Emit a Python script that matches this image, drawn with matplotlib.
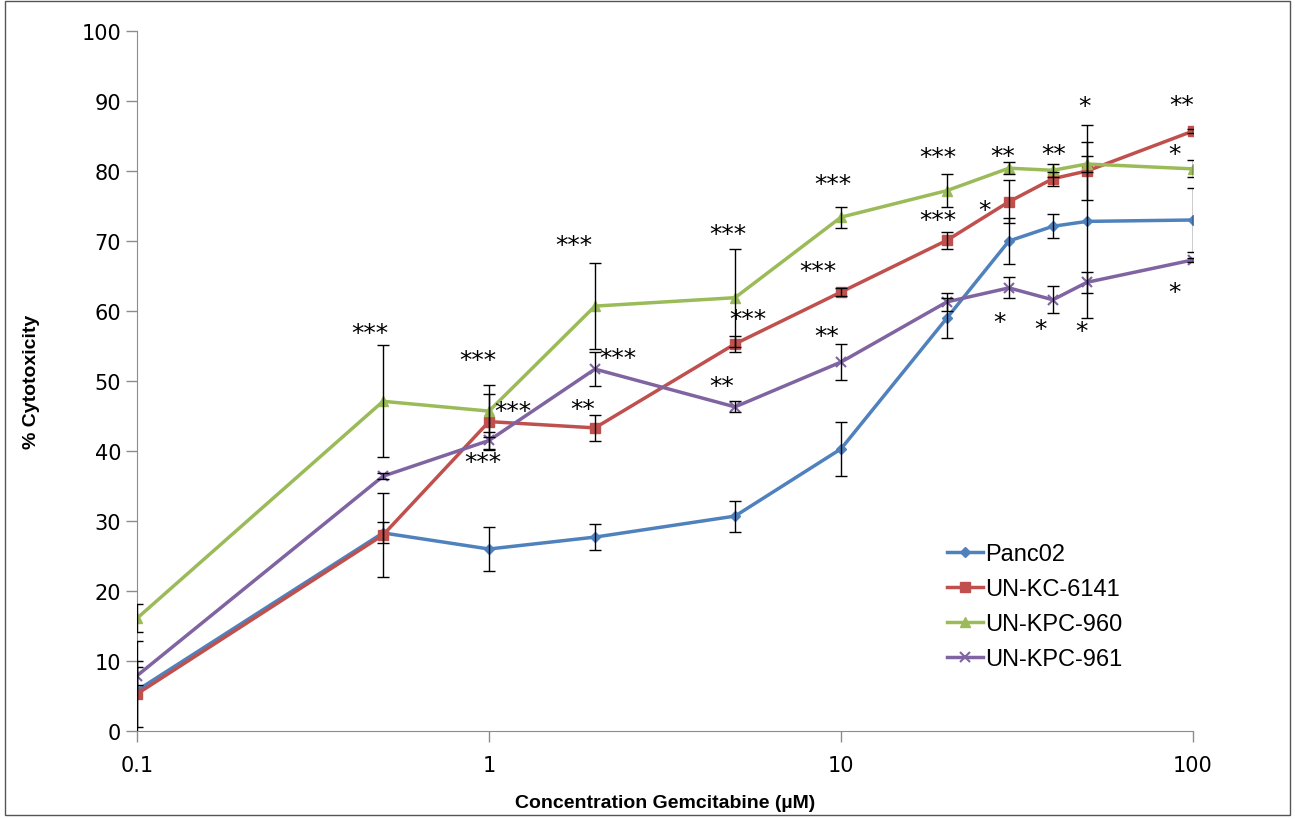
import numpy as np
import matplotlib
matplotlib.use("Agg")
import matplotlib.pyplot as plt
from matplotlib.patches import Rectangle

# concentrations (uM) and % cytotoxicity
conc = [0.1, 0.5, 1, 2, 5, 10, 20, 30, 40, 50, 100]
panc02 = [5.8, 28.3, 26.0, 27.7, 30.7, 40.3, 59.0, 70.0, 72.1, 72.8, 73.0]
panc02_err = [7.0, 1.5, 3.1, 1.9, 2.2, 3.9, 2.9, 3.3, 1.7, 13.8, 4.6]
kc6141 = [5.3, 28.0, 44.2, 43.3, 55.3, 62.7, 70.1, 75.6, 78.9, 80.0, 85.7]
kc6141_err = [4.7, 6.0, 4.0, 1.9, 1.1, 0.6, 1.2, 3.1, 1.0, 4.1, 0.3]
kpc960 = [16.1, 47.1, 45.7, 60.7, 61.9, 73.4, 77.2, 80.4, 80.1, 81.0, 80.3]
kpc960_err = [2.0, 8.0, 3.7, 6.2, 7.0, 1.5, 2.4, 0.9, 0.9, 1.2, 1.2]
kpc961 = [7.9, 36.4, 41.5, 51.7, 46.3, 52.7, 61.3, 63.3, 61.6, 64.1, 67.3]
kpc961_err = [1.3, 0.4, 1.2, 2.4, 0.8, 2.6, 1.3, 1.5, 1.9, 1.5, 0.3]

# significance marks (text, x, y)
stars = [("***", 0.46, 57.4), ("***", 0.93, 53.6), ("***", 1.17, 46.3), ("***", 0.96, 39.1),
         ("***", 1.74, 70.1), ("***", 2.32, 53.9), ("**", 1.84, 46.6),
         ("***", 4.77, 71.6), ("***", 5.44, 59.4), ("**", 4.59, 49.9),
         ("***", 9.48, 78.7), ("***", 8.60, 66.3), ("**", 9.13, 57.1),
         ("***", 18.9, 82.6), ("***", 18.9, 73.6),
         ("**", 28.8, 82.7), ("*", 25.6, 75.1), ("*", 28.3, 59.0),
         ("**", 40.3, 83.1), ("*", 37.0, 58.1),
         ("*", 49.3, 89.9), ("*", 48.1, 57.7),
         ("**", 93.1, 90.0), ("*", 88.9, 83.1), ("*", 88.9, 63.3)]

series = [("Panc02", panc02, panc02_err, "#4F81BD", "D", 5),
          ("UN-KC-6141", kc6141, kc6141_err, "#C0504D", "s", 7),
          ("UN-KPC-960", kpc960, kpc960_err, "#9BBB59", "^", 7),
          ("UN-KPC-961", kpc961, kpc961_err, "#8064A2", "x", 7)]

fig = plt.figure(figsize=(12.95, 8.2), dpi=100)
fig.patches.append(Rectangle((0.004, 0.005), 0.992, 0.992, transform=fig.transFigure,
                             fill=False, ec="#555555", lw=1.0))
ax = fig.add_axes([0.1058, 0.1073, 0.8154, 0.8537])

for name, y, e, c, m, ms in series:
    ax.errorbar(conc, y, yerr=e, fmt="none", ecolor="black", elinewidth=1.0,
                capsize=4, capthick=1.0, zorder=4)
    ax.plot(conc, y, color=c, lw=2.5, marker=m, ms=ms, mew=1.5 if m == "x" else 1,
            mec=c, mfc=c, label=name, zorder=3)

fs_star = 18
for s, x, y in stars:
    # asterisk glyph sits high in the line box; shift so its centre lands on (x, y)
    ax.annotate(s, (x, y), xytext=(0, -0.45 * fs_star), textcoords="offset points",
                ha="center", va="baseline", fontsize=fs_star, family="DejaVu Sans",
                color="black", zorder=6)

ax.set_xscale("log")
ax.set_xlim(0.1, 100)
ax.set_ylim(0, 100)
ax.set_xticks([0.1, 1, 10, 100])
ax.set_xticklabels(["0.1", "1", "10", "100"])
ax.xaxis.set_minor_locator(matplotlib.ticker.NullLocator())
ax.set_yticks(range(0, 101, 10))
for sp in ("top", "right"):
    ax.spines[sp].set_visible(False)
for sp in ("left", "bottom"):
    ax.spines[sp].set_color("#8c8c8c")
ax.tick_params(axis="both", colors="#8c8c8c", labelcolor="black", length=8, width=1,
               direction="out", labelsize=15)
ax.tick_params(axis="x", pad=9)

ax.set_xlabel("Concentration Gemcitabine (\u00b5M)", fontsize=14, fontweight="bold",
              family="Liberation Sans", labelpad=14)
ax.set_ylabel("% Cytotoxicity", fontsize=14, fontweight="bold",
              family="Liberation Sans", labelpad=30)

ax.legend(loc="upper left", bbox_to_anchor=(0.756, 0.285), frameon=False,
          handlelength=1.5, handletextpad=0.1, labelspacing=0.55, borderpad=0,
          prop={"family": "Liberation Sans", "size": 17})

fig.savefig("out.png", dpi=100)
